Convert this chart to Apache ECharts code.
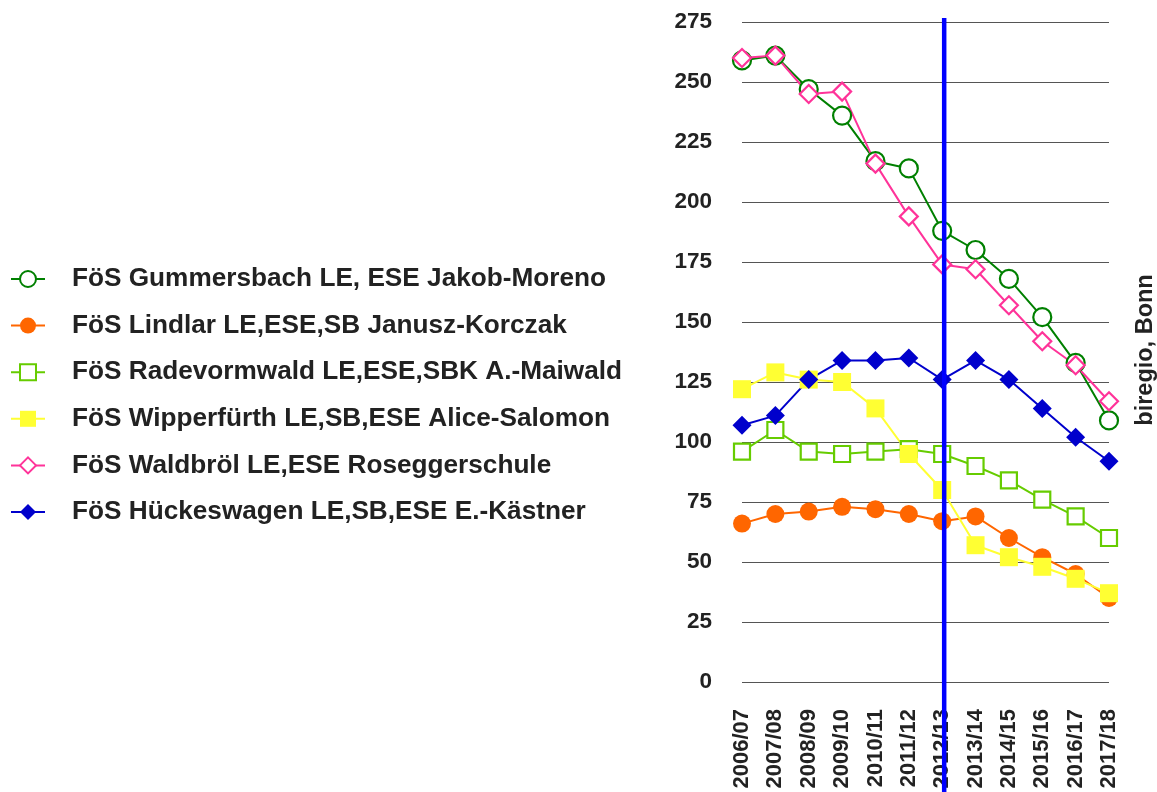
<!DOCTYPE html>
<html>
<head>
<meta charset="utf-8">
<script src="https://cdn.jsdelivr.net/npm/echarts@6/dist/echarts.min.js"></script>
<style>
html,body{margin:0;padding:0;background:#fff;}
#chart{width:1157px;height:792px;}
</style>
</head>
<body>
<div id="chart"></div>
<script>
const categories = ['2006/07','2007/08','2008/09','2009/10','2010/11','2011/12','2012/13','2013/14','2014/15','2015/16','2016/17','2017/18'];
const gummersbach = [259, 261, 247, 236, 217, 214, 188, 180, 168, 152, 133, 109];
const lindlar = [66, 70, 71, 73, 72, 70, 67, 69, 60, 52, 45, 35];
const radevormwald = [96, 105, 96, 95, 96, 97, 95, 90, 84, 76, 69, 60];
const wipperfuerth = [122, 129, 126, 125, 114, 95, 80, 57, 52, 48, 43, 37];
const waldbroel = [260, 261, 245, 246, 216, 194, 174, 172, 157, 142, 132, 117];
const hueckeswagen = [107, 111, 126, 134, 134, 135, 126, 134, 126, 114, 102, 92];
const markerCategory = '2012/13';
const sourceText = 'biregio, Bonn';

const FONT = "'Liberation Sans', Arial, sans-serif";
const TXT = '#222';

function mk(name, data, color, symbol, size, filled) {
  return {
    name: name, type: 'line', data: data,
    symbol: symbol, symbolSize: size,
    lineStyle: { color: color, width: 2 },
    itemStyle: filled ? { color: color, borderColor: color, borderWidth: 0 } : { color: '#fff', borderColor: color, borderWidth: 2.2 },
    color: color,
    emphasis: { disabled: true },
    animation: false
  };
}

const series = [
  mk('FöS Gummersbach LE, ESE Jakob-Moreno', gummersbach, '#008000', 'circle', 18, false),
  mk('FöS Lindlar LE,ESE,SB Janusz-Korczak', lindlar, '#ff6600', 'circle', 18, true),
  mk('FöS Radevormwald LE,ESE,SBK A.-Maiwald', radevormwald, '#66cc00', 'rect', 16, false),
  mk('FöS Wipperfürth LE,SB,ESE Alice-Salomon', wipperfuerth, '#ffff33', 'rect', 18, true),
  mk('FöS Waldbröl LE,ESE Roseggerschule', waldbroel, '#ff3399', 'diamond', 18, false),
  mk('FöS Hückeswagen LE,SB,ESE E.-Kästner', hueckeswagen, '#0000cc', 'diamond', 19, true)
];

const chart = echarts.init(document.getElementById('chart'), null, { renderer: 'canvas' });
chart.setOption({
  backgroundColor: '#fff',
  animation: false,
  textStyle: { fontFamily: FONT },
  grid: { left: 742, right: 48, top: 22, bottom: 110 },
  legend: {
    orient: 'vertical', left: 5, top: 261,
    itemWidth: 34, itemHeight: 20, itemGap: 20.6,
    selectedMode: false,
    textStyle: { fontFamily: FONT, fontWeight: 'bold', fontSize: 26.2, color: TXT, lineHeight: 26, padding: [0, 0, 0, 22] },
    data: series.map(s => s.name)
  },
  xAxis: {
    type: 'category', data: categories, boundaryGap: false,
    axisLine: { show: false }, axisTick: { show: false },
    axisLabel: { rotate: 90, fontFamily: FONT, fontWeight: 'bold', fontSize: 22, color: TXT, margin: 27, interval: 0 },
    splitLine: { show: false }
  },
  yAxis: {
    type: 'value', min: 0, max: 275, interval: 25,
    axisLine: { show: false }, axisTick: { show: false },
    axisLabel: { fontFamily: FONT, fontWeight: 'bold', fontSize: 22.5, color: TXT, margin: 30 },
    splitLine: { lineStyle: { color: '#555', width: 1.2 } }
  },
  series: series
});

const px = chart.convertToPixel({ xAxisIndex: 0 }, markerCategory);
chart.setOption({
  graphic: [
    { type: 'line', z: 100, shape: { x1: px + 2, y1: 18, x2: px + 2, y2: 792 }, style: { stroke: '#0000ff', lineWidth: 4.5 } },
    { type: 'text', z: 100, x: 1146, y: 350, rotation: Math.PI / 2,
      style: { text: sourceText, fontFamily: FONT, fontWeight: 'bold', fontSize: 23.5, fill: TXT, align: 'center', verticalAlign: 'middle' } }
  ]
});
</script>
</body>
</html>
